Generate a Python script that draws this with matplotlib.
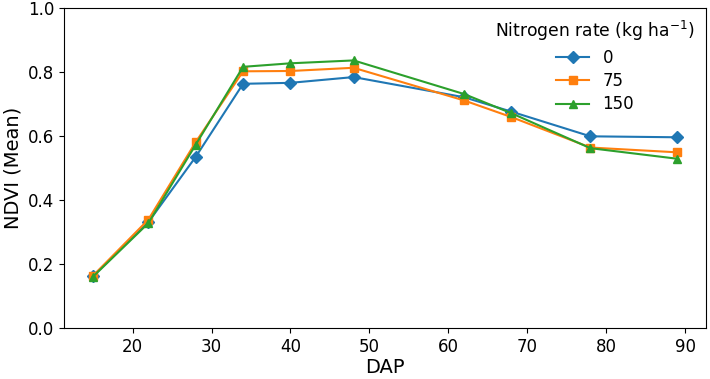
import matplotlib
matplotlib.use("Agg")
import matplotlib.pyplot as plt

dap = [15, 22, 28, 34, 40, 48, 62, 68, 78, 89]
ndvi_0 = [0.162, 0.330, 0.534, 0.762, 0.765, 0.783, 0.720, 0.675, 0.598, 0.595]
ndvi_75 = [0.163, 0.338, 0.580, 0.801, 0.802, 0.812, 0.710, 0.658, 0.563, 0.548]
ndvi_150 = [0.160, 0.327, 0.572, 0.815, 0.826, 0.835, 0.730, 0.670, 0.561, 0.528]
rates = ["0", "75", "150"]

fig, ax = plt.subplots(figsize=(7.1, 3.79), dpi=100)
ax.plot(dap, ndvi_0, marker="D", markersize=6, label=rates[0])
ax.plot(dap, ndvi_75, marker="s", markersize=6, label=rates[1])
ax.plot(dap, ndvi_150, marker="^", markersize=6, label=rates[2])

ax.set_ylim(0, 1.0)
ax.set_xlabel("DAP", fontsize=14, labelpad=2)
ax.set_ylabel("NDVI (Mean)", fontsize=14)
ax.tick_params(labelsize=12)
ax.legend(title="Nitrogen rate (kg ha$^{-1}$)", fontsize=12, title_fontsize=12.3,
          frameon=False, loc="upper right", labelspacing=0.32,
          borderaxespad=0.3)

fig.subplots_adjust(left=0.09, right=0.995, top=0.98, bottom=0.135)
fig.savefig("out.png")
